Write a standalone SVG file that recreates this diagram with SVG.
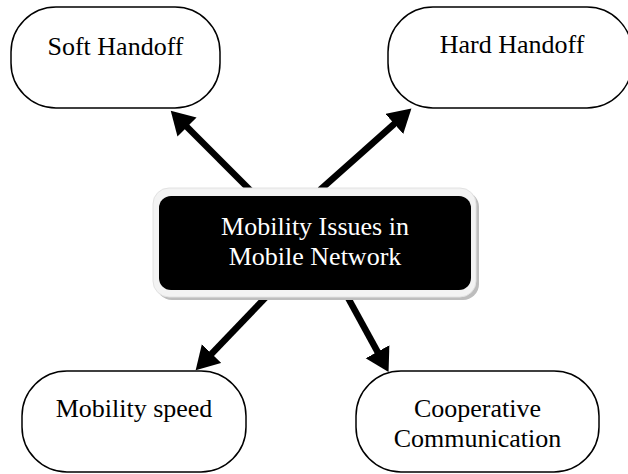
<svg xmlns="http://www.w3.org/2000/svg" width="628" height="474" viewBox="0 0 628 474">
<style>
.node rect{fill:#fff;stroke:#000;stroke-width:1.5}
text{font-family:"Liberation Serif","Times New Roman",serif;font-size:26px;text-anchor:middle;fill:#000}
.conn line{stroke:#000;stroke-width:6.5}
</style>
<defs>
<marker id="ah" markerUnits="userSpaceOnUse" markerWidth="24" markerHeight="28" refX="1" refY="13.5" orient="auto">
<path d="M0,0 L23,13.5 L0,27 z" fill="#000"/>
</marker>
</defs>
<rect width="628" height="474" fill="#fff"/>
<g id="connectors" class="conn">
<line x1="252" y1="192" x2="186.3" y2="126.3" marker-end="url(#ah)"/>
<line x1="320" y1="190" x2="395" y2="123.2" marker-end="url(#ah)"/>
<line x1="267" y1="296" x2="210.9" y2="354.4" marker-end="url(#ah)"/>
<line x1="347" y1="296" x2="378" y2="352.6" marker-end="url(#ah)"/>
</g>
<g id="soft" class="node">
<rect x="11" y="7" width="209" height="101" rx="45" ry="45"/>
<text x="115.5" y="55">Soft Handoff</text>
</g>
<g id="hard" class="node">
<rect x="388" y="7" width="244" height="101" rx="45" ry="45"/>
<text x="512" y="53">Hard Handoff</text>
</g>
<g id="speed" class="node">
<rect x="22" y="371" width="224" height="101" rx="45" ry="45"/>
<text x="134" y="417">Mobility speed</text>
</g>
<g id="coop" class="node">
<rect x="356" y="371" width="243" height="101" rx="45" ry="45"/>
<text x="477.5" y="417">Cooperative</text>
<text x="477.5" y="447">Communication</text>
</g>
<g id="center">
<rect x="156" y="191" width="323" height="109" rx="16" ry="16" fill="#bdbdbd"/>
<rect x="153" y="188" width="323" height="109" rx="16" ry="16" fill="#f3f3f3" stroke="#e2e2e2" stroke-width="1"/>
<rect x="159" y="196" width="312" height="94" rx="12" ry="12" fill="#000"/>
<text x="315" y="235" style="fill:#fff">Mobility Issues in</text>
<text x="315" y="265" style="fill:#fff">Mobile Network</text>
</g>
</svg>
